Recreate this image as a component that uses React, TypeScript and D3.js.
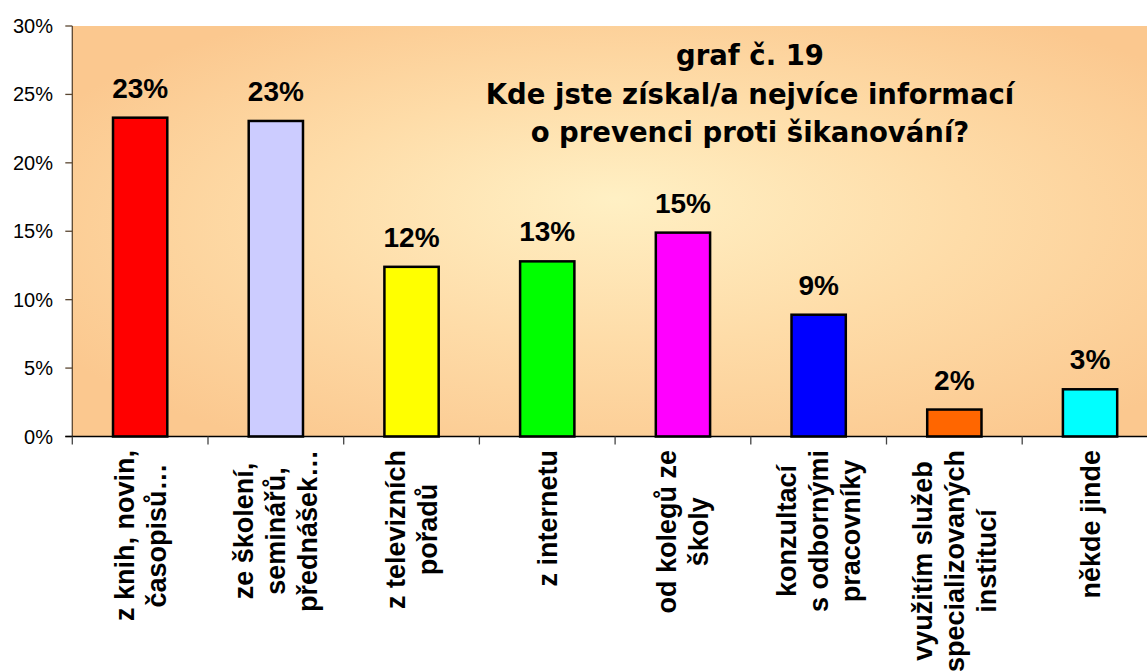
import React, { useEffect, useRef } from "react";
import * as d3 from "d3";

const categories: string[][] = [
  ["z knih, novin,", "časopisů…"],
  ["ze školení,", "seminářů,", "přednášek…"],
  ["z televizních", "pořadů"],
  ["z internetu"],
  ["od kolegů ze", "školy"],
  ["konzultací", "s odbornými", "pracovníky"],
  ["využitím služeb", "specializovaných", "institucí"],
  ["někde jinde"],
];
const values: number[] = [0.233, 0.2306, 0.124, 0.128, 0.149, 0.089, 0.0197, 0.0345];
const barColors: string[] = ["#FF0000", "#CCCCFF", "#FFFF00", "#00FF00", "#FF00FF", "#0000FF", "#FF6600", "#00FFFF"];
const yTicks: number[] = [0, 0.05, 0.1, 0.15, 0.2, 0.25, 0.3];
const titleLines: string[] = ["graf č. 19", "Kde jste získal/a nejvíce informací", "o prevenci proti šikanování?"];

export default function App() {
  const ref = useRef<SVGSVGElement>(null);
  useEffect(() => {
    const svg = d3.select(ref.current);
    svg.selectAll("*").remove();
    const W = 1147;
    const left = 72.3, top = 26, bottom = 436.5, band = 135.7;
    const ids = categories.map((_, i) => String(i));
    const x = d3.scaleBand().domain(ids).range([left, left + band * categories.length]).padding(0);
    const y = d3.scaleLinear().domain([0, 0.3]).range([bottom, top]);

    const defs = svg.append("defs");
    const g = defs.append("radialGradient").attr("id", "bg")
      .attr("cx", 0.53).attr("cy", 0.5).attr("r", 0.62).attr("fx", 0.5).attr("fy", 0.42);
    g.append("stop").attr("offset", "0").attr("stop-color", "#FFF0C4");
    g.append("stop").attr("offset", "0.5").attr("stop-color", "#FEDCA8");
    g.append("stop").attr("offset", "1").attr("stop-color", "#FBC88F");

    svg.append("rect").attr("x", left).attr("y", top)
      .attr("width", band * categories.length).attr("height", bottom - top)
      .attr("fill", "url(#bg)");

    // title
    const tg = svg.append("g");
    const tys = [65, 104, 142];
    titleLines.forEach((t, i) => {
      tg.append("text").attr("x", 750).attr("y", tys[i]).attr("text-anchor", "middle")
        .attr("font-family", "'DejaVu Sans', sans-serif").attr("font-weight", "bold")
        .attr("font-size", 27.5).attr("fill", "#000").text(t);
    });

    // bars
    const bw = x.bandwidth() * 0.4;
    svg.append("g").selectAll("rect").data(values).join("rect")
      .attr("x", (_, i) => (x(String(i)) as number) + x.bandwidth() / 2 - bw / 2)
      .attr("y", d => y(d))
      .attr("width", bw)
      .attr("height", d => y(0) - y(d))
      .attr("fill", (_, i) => barColors[i])
      .attr("stroke", "#000").attr("stroke-width", 2.5);

    // data labels
    const fmt = d3.format(".0%");
    svg.append("g").selectAll("text").data(values).join("text")
      .attr("x", (_, i) => (x(String(i)) as number) + x.bandwidth() / 2)
      .attr("y", d => y(d) - 20)
      .attr("text-anchor", "middle")
      .attr("font-family", "'Liberation Sans', Arial, sans-serif")
      .attr("font-weight", "bold").attr("font-size", 28).attr("fill", "#000")
      .text(d => fmt(d));

    // y axis
    const ya = svg.append("g");
    ya.append("line").attr("x1", left).attr("x2", left).attr("y1", top).attr("y2", bottom)
      .attr("stroke", "#5a4630").attr("stroke-width", 1.3);
    yTicks.forEach(t => {
      ya.append("line").attr("x1", left - 7).attr("x2", left).attr("y1", y(t)).attr("y2", y(t))
        .attr("stroke", "#5a4630").attr("stroke-width", 1.3);
      ya.append("text").attr("x", 53).attr("y", y(t)).attr("dy", "0.35em")
        .attr("text-anchor", "end").attr("font-family", "'Liberation Sans', Arial, sans-serif")
        .attr("font-size", 20).attr("fill", "#000").text(fmt(t));
    });

    // x axis
    const xa = svg.append("g");
    xa.append("line").attr("x1", left - 7).attr("x2", W).attr("y1", bottom).attr("y2", bottom)
      .attr("stroke", "#000").attr("stroke-width", 1.3);
    for (let i = 0; i <= categories.length; i++) {
      const xx = left + band * i;
      xa.append("line").attr("x1", xx).attr("x2", xx).attr("y1", bottom).attr("y2", bottom + 8)
        .attr("stroke", "#444").attr("stroke-width", 1.3);
    }

    // category labels
    const lg = svg.append("g");
    const pitch = 32;
    categories.forEach((lines, i) => {
      const cx = (x(String(i)) as number) + x.bandwidth() / 2;
      const texts = lines.map((ln, k) => {
        const xl = cx + (k - (lines.length - 1) / 2) * pitch;
        return lg.append("text")
          .attr("text-anchor", "middle")
          .attr("dy", "0.35em")
          .attr("font-family", "'Liberation Sans', Arial, sans-serif")
          .attr("font-weight", "bold").attr("font-size", 27).attr("fill", "#000")
          .attr("data-x", xl)
          .text(ln);
      });
      const maxLen = d3.max(texts, t => (t.node() as SVGTextElement).getComputedTextLength()) || 0;
      const cy = 450 + maxLen / 2;
      texts.forEach(t => {
        const xl = +t.attr("data-x");
        t.attr("transform", `translate(${xl},${cy}) rotate(-90)`);
      });
    });
  }, []);
  return (
    <div style={{ position: "fixed", left: 0, top: 0, width: 1147, height: 671, overflow: "hidden", background: "#fff" }}>
      <svg ref={ref} width={1147} height={671} style={{ display: "block" }} />
    </div>
  );
}
